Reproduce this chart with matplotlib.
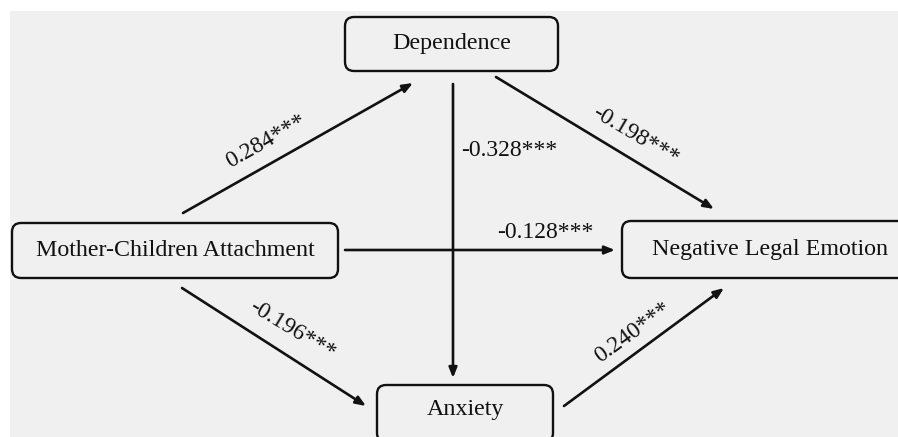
import matplotlib.pyplot as plt
from matplotlib.patches import FancyBboxPatch, Rectangle

# path model: nodes and standardized coefficients
nodes = ["Dependence", "Mother-Children Attachment", "Negative Legal Emotion", "Anxiety"]
paths = [
    ("Mother-Children Attachment", "Dependence"),
    ("Dependence", "Negative Legal Emotion"),
    ("Dependence", "Anxiety"),
    ("Mother-Children Attachment", "Negative Legal Emotion"),
    ("Mother-Children Attachment", "Anxiety"),
    ("Anxiety", "Negative Legal Emotion"),
]
coefs = ["0.284***", "-0.198***", "-0.328***", "-0.128***", "-0.196***", "0.240***"]

# layout (pixel coordinates, y down)
boxes = {
    "Dependence": (345, 17, 558, 71),
    "Mother-Children Attachment": (12, 223, 338, 278),
    "Negative Legal Emotion": (622, 221, 918, 278),
    "Anxiety": (377, 385, 553, 442),
}
text_pos = {
    "Dependence": (452, 43),
    "Mother-Children Attachment": (175, 250),
    "Negative Legal Emotion": (770, 250),
    "Anxiety": (465, 409),
}
arrow_pts = [
    ((183, 213), (413, 83)),
    ((496, 77), (714, 209)),
    ((453, 84), (453, 378)),
    ((345, 250), (615, 250)),
    ((182, 288), (366, 406)),
    ((564, 406), (724, 288)),
]
label_pos = [
    ((266, 141), 29.5, "center"),
    ((635, 136), -30.5, "center"),
    ((461, 150), 0, "left"),
    ((497, 232), 0, "left"),
    ((292, 330), -31, "center"),
    ((633, 333), 36, "center"),
]

bg = "#f0f0f0"
ink = "#111111"
serif = ["Liberation Serif", "DejaVu Serif"]

fig = plt.figure(figsize=(8.98, 4.37), dpi=100)
ax = fig.add_axes([0, 0, 1, 1])
ax.set_xlim(0, 898)
ax.set_ylim(437, 0)
ax.axis("off")

ax.add_patch(Rectangle((10, 11), 900, 440, facecolor=bg, edgecolor="none"))

for name in nodes:
    x0, y0, x1, y1 = boxes[name]
    ax.add_patch(FancyBboxPatch((x0, y0), x1 - x0, y1 - y0,
                                boxstyle="round,pad=0,rounding_size=9",
                                facecolor=bg, edgecolor=ink, linewidth=1.7))
    tx, ty = text_pos[name]
    ax.text(tx, ty, name, ha="center", va="center",
            fontsize=17.3, family=serif, color=ink)

for (p0, p1) in arrow_pts:
    ax.annotate("", xy=p1, xytext=p0,
                arrowprops=dict(arrowstyle="-|>,head_length=0.6,head_width=0.24",
                                color=ink, lw=1.9, shrinkA=0, shrinkB=0))

for lab, ((x, y), rot, ha) in zip(coefs, label_pos):
    ax.text(x, y, lab, ha=ha, va="center", rotation=rot,
            rotation_mode="anchor", fontsize=17, family=serif, color=ink)

fig.savefig("out.png", dpi=100, facecolor="white")
